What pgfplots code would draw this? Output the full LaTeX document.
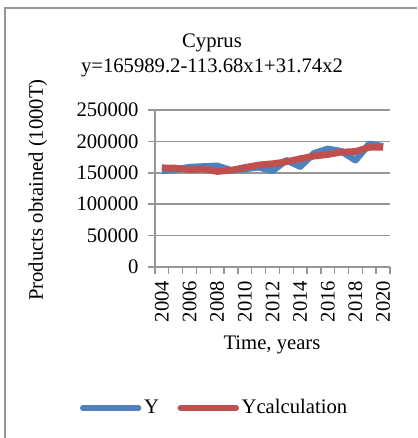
\documentclass[border=0pt]{standalone}
\usepackage{pgfplots}
\pgfplotsset{compat=1.18}
\usepackage{fontspec}
\setmainfont{Liberation Serif}
\definecolor{ybl}{RGB}{79,129,189}
\definecolor{yrd}{RGB}{192,80,77}
\definecolor{grd}{RGB}{150,150,150}
\begin{document}
\fontsize{15.5}{18}\selectfont
\begin{tikzpicture}
\useasboundingbox (0,0) rectangle (312.75pt,328.5pt);
% frame of the chart area
\draw[grd, line width=1.3pt] (3.75pt,0) -- (3.75pt,322.5pt) -- (312.75pt,322.5pt);
\node at (159pt,296.25pt) {Cyprus};
\node at (159pt,277.5pt) {y=165989.2-113.68x1+31.74x2};
\node[rotate=90] at (28.5pt,186pt) {Products obtained (1000T)};
\node at (204pt,69.75pt) {Time, years};
\begin{axis}[
  at={(116.25pt,128.25pt)}, anchor=south west,
  scale only axis, width=176.25pt, height=117.75pt,
  xmin=2003.5, xmax=2020.5, ymin=0, ymax=250000,
  axis x line=bottom, axis y line=left,
  axis line style={-, grd, line width=1.3pt},
  xtick={2004,2006,...,2020},
  minor xtick={2003.5,2004.5,...,2020.5},
  major x tick style={draw=none},
  minor x tick style={grd, line width=1pt},
  minor tick length=5pt,
  ytick={0,50000,...,250000},
  major y tick style={grd, line width=1.3pt},
  major tick length=5pt,
  tick align=outside,
  ymajorgrids, grid style={grd, line width=1.3pt},
  scaled ticks=false,
  /pgf/number format/fixed,
  /pgf/number format/precision=0,
  /pgf/number format/1000 sep={},
  /pgf/number format/assume math mode=true,
  ticklabel style={font=\fontsize{15.5}{18}\selectfont},
  xticklabel style={rotate=90, anchor=east},
  yticklabel style={xshift=-2pt},
  legend columns=2,
  legend style={at={(0.255,-0.898)}, anchor=center, draw=none, fill=none,
    font=\fontsize{15.5}{18}\selectfont, /tikz/every even column/.append style={column sep=12pt}},
  legend image code/.code={\draw[#1, line width=4pt, line cap=round] (0pt,0pt) -- (42pt,0pt);},
]
\addplot[ybl, line width=5pt, line join=round] coordinates {
(2004,153000) (2005,155000) (2006,159000) (2007,160000) (2008,161000)
(2009,154000) (2010,156000) (2011,159000) (2012,153000) (2013,170000)
(2014,160000) (2015,181000) (2016,188000) (2017,184000) (2018,170000)
(2019,196000) (2020,192000)};
\addlegendentry{Y}
\addplot[yrd, line width=5pt, line join=round] coordinates {
(2004,158000) (2005,157500) (2006,155000) (2007,156000) (2008,152000)
(2009,154000) (2010,158500) (2011,162500) (2012,164500) (2013,167500)
(2014,172500) (2015,176500) (2016,179000) (2017,183000) (2018,184000)
(2019,190500) (2020,190500)};
\addlegendentry{Ycalculation}
\end{axis}
\end{tikzpicture}
\end{document}
